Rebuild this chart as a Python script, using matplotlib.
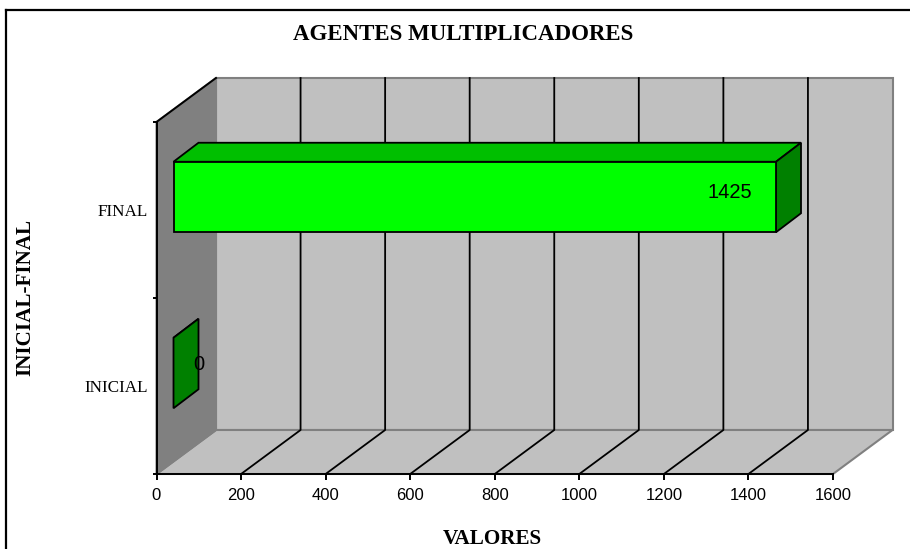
import matplotlib
matplotlib.use("Agg")
import matplotlib.pyplot as plt
from matplotlib.patches import Polygon
from matplotlib.lines import Line2D

categories = ["INICIAL", "FINAL"]
values = [0, 1425]
x_ticks = [0, 200, 400, 600, 800, 1000, 1200, 1400, 1600]
title = "AGENTES MULTIPLICADORES"
xlabel = "VALORES"
ylabel = "INICIAL-FINAL"

W, H = 910, 549
L, R, T, B = 156.5, 833, 122, 474
fig = plt.figure(figsize=(W / 100, H / 100), dpi=100, facecolor="white")
ax = fig.add_axes([L / W, 1 - B / H, (R - L) / W, (B - T) / H])
XMAX, YMAX = 1600, 2
ax.set_xlim(0, XMAX)
ax.set_ylim(0, YMAX)
ax.patch.set_visible(False)
for s in ("top", "right"):
    ax.spines[s].set_visible(False)
for s in ("left", "bottom"):
    ax.spines[s].set_linewidth(1.4)
    ax.spines[s].set_zorder(8)

# depth of the box and of the bars, in data units
DX = 59.5 / (R - L) * XMAX
DY = 44 / (B - T) * YMAX
BDX = 25 / (R - L) * XMAX
BDY = 19 / (B - T) * YMAX
BAR_OFF_X = 17 / (R - L) * XMAX
BAR_OFF_Y = 13 / (B - T) * YMAX
BAR_H = 70.5 / (B - T) * YMAX
LABEL_SHIFT = [(0, 9), (-46, 4)]


def poly(pts, fc, ec="black", lw=1.3, z=2):
    ax.add_patch(Polygon(pts, closed=True, fc=fc, ec=ec, lw=lw, zorder=z,
                         clip_on=False, joinstyle="miter"))


WALL = "#C0C0C0"
EDGE = "#808080"
# back wall, side wall, floor
poly([(DX, DY), (XMAX + DX, DY), (XMAX + DX, YMAX + DY), (DX, YMAX + DY)], WALL, EDGE, 1.5, 1)
poly([(0, 0), (DX, DY), (DX, YMAX + DY), (0, YMAX)], "#808080", EDGE, 1.5, 1.2)
poly([(0, 0), (XMAX, 0), (XMAX + DX, DY), (DX, DY)], WALL, EDGE, 1.5, 1.1)
ax.add_line(Line2D([0, DX], [YMAX, YMAX + DY], color="black", lw=1.4, zorder=3, clip_on=False))

# gridlines on floor and back wall
for v in x_ticks[1:-1]:
    ax.add_line(Line2D([v, v + DX, v + DX], [0, DY, YMAX + DY], color="black", lw=1.3,
                       zorder=1.5, clip_on=False))

# bars
for i, v in enumerate(values):
    x0 = BAR_OFF_X
    x1 = BAR_OFF_X + v
    y0 = i + 0.5 + BAR_OFF_Y - BAR_H / 2
    y1 = y0 + BAR_H
    poly([(x0, y1), (x1, y1), (x1 + BDX, y1 + BDY), (x0 + BDX, y1 + BDY)], "#00BF00", z=4)
    poly([(x1, y0), (x1 + BDX, y0 + BDY), (x1 + BDX, y1 + BDY), (x1, y1)], "#008000", z=4)
    if v > 0:
        poly([(x0, y0), (x1, y0), (x1, y1), (x0, y1)], "#00FF00", z=4)
    ax.annotate(str(v), xy=(x1 + BDX if v == 0 else x1, i + 0.5 + BAR_OFF_Y),
                xytext=LABEL_SHIFT[i], textcoords="offset pixels",
                ha="center", va="center", fontsize=14.5,
                family="Liberation Sans", color="black", zorder=6)

ax.set_xticks(x_ticks)
ax.set_xticklabels([str(t) for t in x_ticks], family="Liberation Sans", fontsize=12)
ax.set_yticks(range(YMAX + 1))
ax.set_yticklabels([])
ax.tick_params(axis="x", length=4, width=1.4, color="black", pad=6)
ax.tick_params(axis="y", length=3, width=1.4, color="black")

LABEL_Y = [388, 212]
for i, c in enumerate(categories):
    fig.text(147.5 / W, 1 - LABEL_Y[i] / H, c, ha="right", va="center",
             family="Liberation Serif", fontsize=12.3, color="black")

fig.text(463.5 / W, 1 - 34 / H, title, ha="center", va="center",
         family="Liberation Serif", fontweight="bold", fontsize=16.5, color="black")
fig.text(492 / W, 1 - 539 / H, xlabel, ha="center", va="center",
         family="Liberation Serif", fontweight="bold", fontsize=15.2, color="black")
fig.text(25.5 / W, 1 - 297 / H, ylabel, ha="center", va="center", rotation=90,
         family="Liberation Serif", fontweight="bold", fontsize=15.2, color="black")

# outer frame: only top and left are visible
fig.add_artist(Line2D([6 / W, 6 / W], [0, 1 - 10 / H], color="black", lw=1.6, transform=fig.transFigure))
fig.add_artist(Line2D([5.5 / W, 1], [1 - 10 / H, 1 - 10 / H], color="black", lw=1.6, transform=fig.transFigure))

fig.savefig("out.png", dpi=100, facecolor="white")
